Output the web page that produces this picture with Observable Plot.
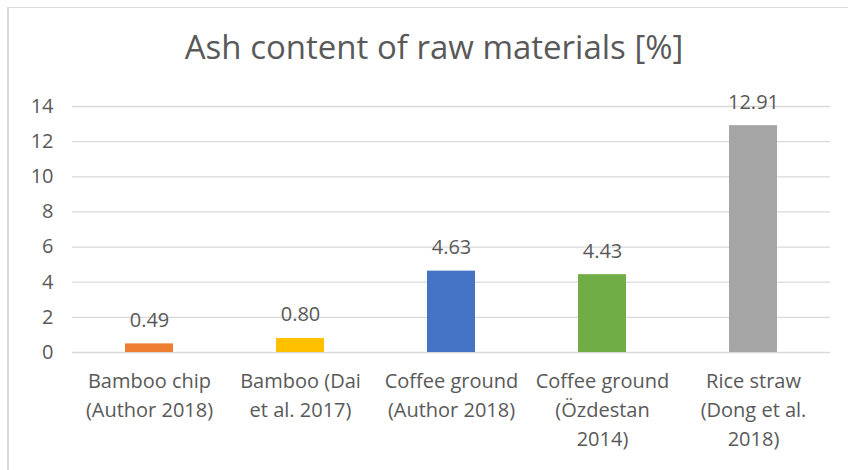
<!DOCTYPE html>
<html>
<head>
<meta charset="utf-8">
<script src="https://cdn.jsdelivr.net/npm/d3@7"></script>
<script src="https://cdn.jsdelivr.net/npm/@observablehq/plot@0.6"></script>
<style>
  html, body { margin: 0; padding: 0; background: #fff; overflow: hidden; }
  #wrap { position: relative; width: 848px; height: 470px; }
  #frame { position: absolute; left: 7px; top: 7px; width: 900px; height: 500px; border-left: 2px solid #d9d9d9; border-top: 1.5px solid #d9d9d9; }
  #title { position: absolute; left: 0; width: 868px; top: 27px; text-align: center; font-family: "Open Sans", sans-serif; font-size: 33px; color: #595959; line-height: 1.2; }
  #chart { position: absolute; left: 0; top: 0; }
</style>
</head>
<body>
<div id="wrap">
  <div id="frame"></div>
  <div id="title">Ash content of raw materials [%]</div>
  <div id="chart"></div>
</div>
<script>
const categories = [
  "Bamboo chip\n(Author 2018)",
  "Bamboo (Dai\net al. 2017)",
  "Coffee ground\n(Author 2018)",
  "Coffee ground\n(Özdestan\n2014)",
  "Rice straw\n(Dong et al.\n2018)"
];
const values = [0.49, 0.80, 4.63, 4.43, 12.91];
const valueLabels = ["0.49", "0.80", "4.63", "4.43", "12.91"];
const colors = ["#ED7D31", "#FFC000", "#4472C4", "#70AD47", "#A5A5A5"];
const yTicks = [0, 2, 4, 6, 8, 10, 12, 14];

const data = categories.map((c, i) => ({category: c, value: values[i], label: valueLabels[i], color: colors[i]}));
const font = "'Open Sans', sans-serif";

const chart = Plot.plot({
  width: 848,
  height: 470,
  marginLeft: 72,
  marginRight: 18,
  marginTop: 106,
  marginBottom: 118,
  style: {fontFamily: font, color: "#595959", background: "transparent"},
  x: {domain: categories, paddingInner: 0.68, paddingOuter: 0.34},
  y: {domain: [0, 14]},
  marks: [
    Plot.ruleY(yTicks, {stroke: "#d9d9d9", strokeWidth: 1.3}),
    Plot.axisY({ticks: yTicks, tickSize: 0, tickPadding: 19, fontSize: 20, fill: "#595959", label: null}),
    Plot.axisX({tickSize: 0, tickPadding: 15, fontSize: 20, lineHeight: 1.45, fill: "#595959", label: null}),
    Plot.barY(data, {x: "category", y: "value", fill: "color"}),
    Plot.text(data, {x: "category", y: "value", text: "label", dy: -17, lineAnchor: "bottom", fontSize: 20, fill: "#595959"})
  ]
});
document.getElementById("chart").appendChild(chart);
</script>
</body>
</html>
